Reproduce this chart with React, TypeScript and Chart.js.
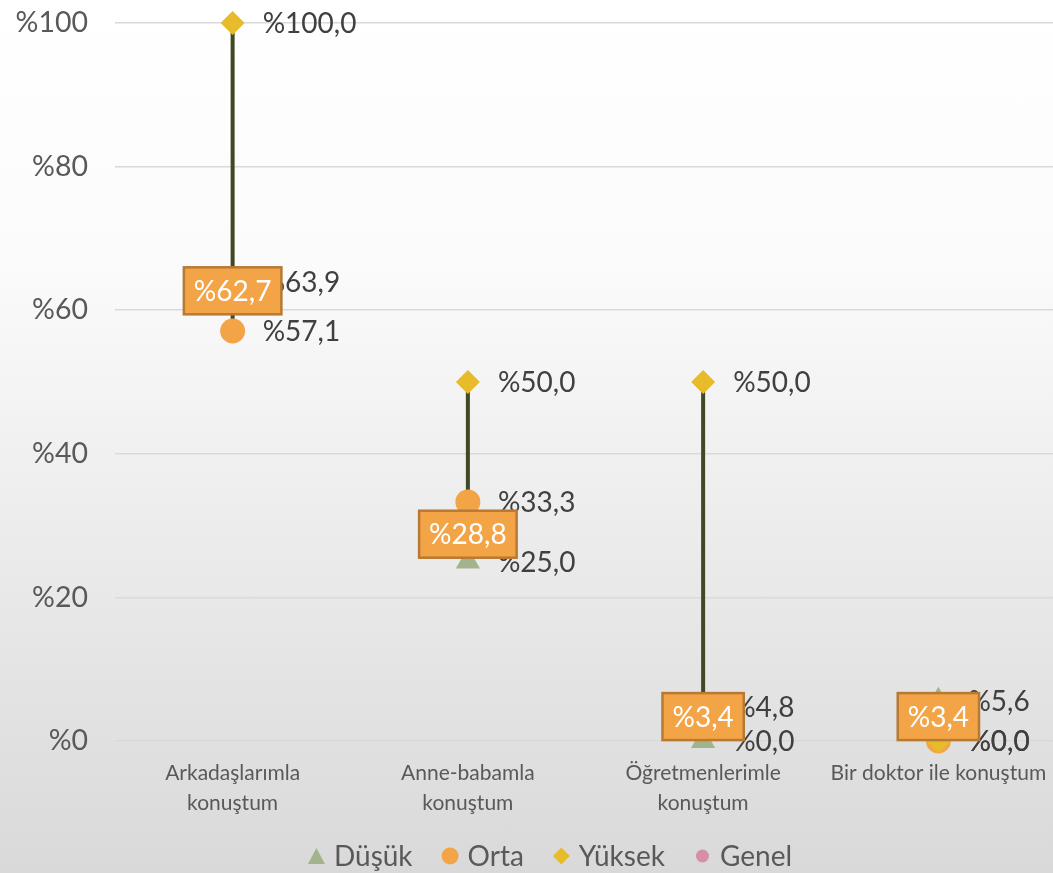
import React, { useEffect, useRef } from 'react';
import { Chart, registerables } from 'chart.js';

Chart.register(...registerables);

const categories: (string | string[])[] = [
  ['Arkadaşlarımla', 'konuştum'],
  ['Anne-babamla', 'konuştum'],
  ['Öğretmenlerimle', 'konuştum'],
  'Bir doktor ile konuştum',
];
const seriesNames = ['Düşük', 'Orta', 'Yüksek', 'Genel'];
const dusuk = [63.9, 25.0, 0.0, 5.6];
const orta = [57.1, 33.3, 4.8, 0.0];
const yuksek = [100.0, 50.0, 50.0, 0.0];
const genel = [62.7, 28.8, 3.4, 3.4];
const yMin = 0;
const yMax = 100;
const yStep = 20;

const FONT = 'Lato, "Open Sans", sans-serif';
const COLORS = ['#a3b48c', '#f3a447', '#e7bb2a', '#d68fa6'];
const STYLES = ['triangle', 'circle', 'rectRot', 'circle'];

const fmt = (v: number) => '%' + v.toFixed(1).replace('.', ',');

export default function App() {
  const ref = useRef<HTMLCanvasElement>(null);

  useEffect(() => {
    const canvas = ref.current;
    if (!canvas) return;

    const hiLo = {
      id: 'hiLo',
      beforeDatasetsDraw(chart: any) {
        const xs = chart.scales.x;
        const ys = chart.scales.y;
        const c = chart.ctx;
        c.save();
        c.strokeStyle = '#3f4926';
        c.lineWidth = 4;
        categories.forEach((_, i) => {
          const vals = [dusuk[i], orta[i], yuksek[i]];
          const lo = Math.min(...vals);
          const hi = Math.max(...vals);
          const px = xs.getPixelForValue(i);
          c.beginPath();
          c.moveTo(px, ys.getPixelForValue(lo));
          c.lineTo(px, ys.getPixelForValue(hi));
          c.stroke();
        });
        c.restore();
      },
    };

    const labelsPlugin = {
      id: 'valueLabels',
      afterDatasetsDraw(chart: any) {
        const c = chart.ctx;
        c.save();
        c.font = `28px ${FONT}`;
        c.textBaseline = 'middle';
        c.textAlign = 'left';
        c.fillStyle = '#404040';
        for (let d = 0; d < 3; d++) {
          const meta = chart.getDatasetMeta(d);
          const data = chart.data.datasets[d].data as number[];
          meta.data.forEach((pt: any, i: number) => {
            c.fillText(fmt(data[i]), pt.x + 30, pt.y + 1);
          });
        }
        const gm = chart.getDatasetMeta(3);
        gm.data.forEach((pt: any, i: number) => {
          const txt = fmt(genel[i]);
          const w = c.measureText(txt).width + 20;
          const h = 47;
          c.fillStyle = '#f3a447';
          c.strokeStyle = '#b87a32';
          c.lineWidth = 2.5;
          c.fillRect(pt.x - w / 2, pt.y - h / 2, w, h);
          c.strokeRect(pt.x - w / 2, pt.y - h / 2, w, h);
          c.fillStyle = '#ffffff';
          c.textAlign = 'center';
          c.fillText(txt, pt.x, pt.y + 1);
          c.textAlign = 'left';
        });
        c.restore();
      },
    };

    const legendPlugin = {
      id: 'customLegend',
      afterDraw(chart: any) {
        const c = chart.ctx;
        c.save();
        c.font = `28px ${FONT}`;
        c.textBaseline = 'middle';
        const markerW = 17;
        const gapMT = 9;
        const gapItems = 29;
        const widths = seriesNames.map((n) => c.measureText(n).width);
        const total =
          widths.reduce((a, b) => a + b, 0) +
          seriesNames.length * (markerW + gapMT) +
          (seriesNames.length - 1) * gapItems;
        let x = 550 - total / 2;
        const y = 856;
        seriesNames.forEach((n, i) => {
          const cx = x + markerW / 2;
          c.fillStyle = COLORS[i];
          c.beginPath();
          if (STYLES[i] === 'triangle') {
            c.moveTo(cx, y - 8);
            c.lineTo(cx + 8.5, y + 8);
            c.lineTo(cx - 8.5, y + 8);
            c.closePath();
          } else if (STYLES[i] === 'rectRot') {
            c.moveTo(cx, y - 8.5);
            c.lineTo(cx + 8.5, y);
            c.lineTo(cx, y + 8.5);
            c.lineTo(cx - 8.5, y);
            c.closePath();
          } else {
            c.arc(cx, y, i === 3 ? 6.5 : 8.5, 0, Math.PI * 2);
          }
          c.fill();
          x += markerW + gapMT;
          c.fillStyle = '#595959';
          c.textAlign = 'left';
          c.fillText(n, x, y + 1);
          x += widths[i] + gapItems;
        });
        c.restore();
      },
    };

    const seriesData = [dusuk, orta, yuksek, genel];
    const radii = [14, 12.5, 12, 6];

    const chart = new Chart(canvas, {
      type: 'line',
      data: {
        labels: categories,
        datasets: seriesNames.map((name, i) => ({
          label: name,
          data: seriesData[i],
          order: 3 - i,
          showLine: false,
          clip: false as any,
          pointStyle: STYLES[i] as any,
          pointRadius: radii[i],
          pointHoverRadius: radii[i],
          backgroundColor: COLORS[i],
          borderColor: COLORS[i],
          pointBorderWidth: 0,
        })),
      },
      options: {
        responsive: false,
        animation: false,
        events: [],
        layout: { padding: { top: 23, right: 44, bottom: 50, left: 0 } },
        plugins: {
          legend: { display: false },
          tooltip: { enabled: false },
        },
        scales: {
          x: {
            offset: true,
            grid: { display: false, drawTicks: false },
            border: { display: false },
            ticks: {
              font: { family: FONT, size: 21, lineHeight: 30 / 21 },
              color: '#595959',
              padding: 17,
              maxRotation: 0,
              autoSkip: false,
            },
            afterFit(s: any) {
              s.height = 82;
              s.paddingLeft = 0;
              s.paddingRight = 0;
            },
          },
          y: {
            min: yMin,
            max: yMax,
            ticks: {
              stepSize: yStep,
              callback: (v: any) => '%' + v,
              font: { family: FONT, size: 28.5 },
              color: '#595959',
              padding: 27,
            },
            grid: { color: '#d9d9d9', lineWidth: 1.5, drawTicks: false },
            border: { display: false },
            afterFit(s: any) {
              s.width = 115;
              s.paddingTop = 0;
              s.paddingBottom = 0;
            },
          },
        },
      },
      plugins: [hiLo, labelsPlugin, legendPlugin],
    });

    return () => chart.destroy();
  }, []);

  return (
    <div
      style={{
        position: 'fixed',
        left: 0,
        top: 0,
        width: 1053,
        height: 873,
        overflow: 'hidden',
        background: 'linear-gradient(180deg, #ffffff 0%, #fbfbfb 30%, #d9d9d9 100%)',
      }}
    >
      <canvas ref={ref} width={1100} height={873} style={{ display: 'block' }} />
    </div>
  );
}
